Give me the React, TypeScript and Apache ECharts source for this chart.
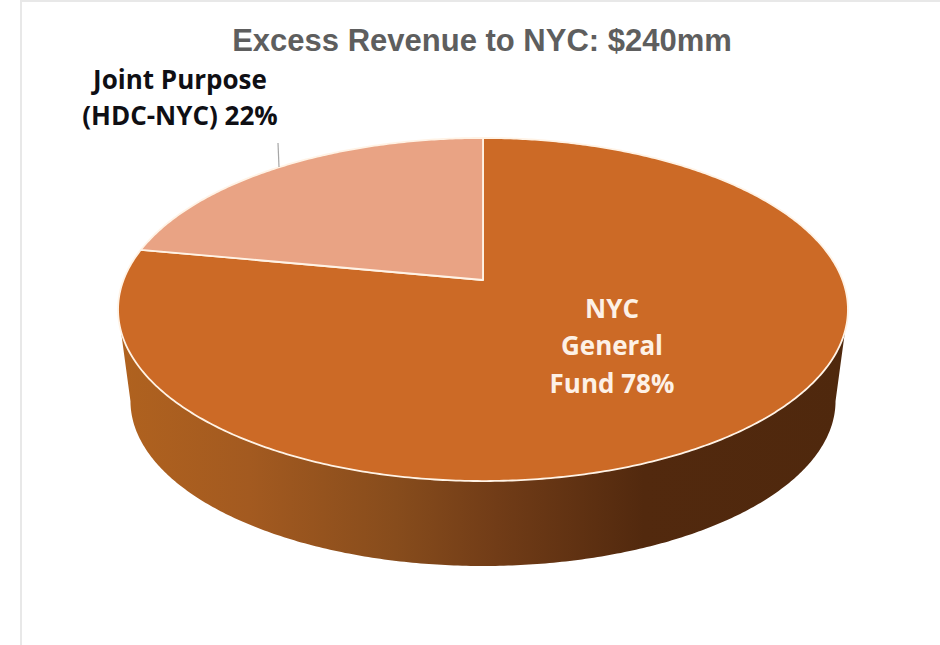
import React, { useEffect, useRef } from "react";
import * as echarts from "echarts";

const titleText = "Excess Revenue to NYC: $240mm";
const categories = ["NYC General Fund", "Joint Purpose (HDC-NYC)"];
const sliceValues = [78, 22];
const sliceLabels = ["NYC\nGeneral\nFund 78%", "Joint Purpose\n(HDC-NYC) 22%"];
const sliceColors = ["#CC6A26", "#E9A384"];

const total = sliceValues.reduce((a, b) => a + b, 0);

// perspective projection of the pie's disc
const CX = 483;
const R = 359.5;
const A = 118.3;
const B = 280;
const C = -0.172;
const project = (theta: number) => {
  const u = Math.sin(theta);
  const v = -Math.cos(theta);
  const d = 1 + C * v;
  return [CX + (R * u) / d, (A * v + B) / d];
};
const lower = (p: number[]) => [CX + (p[0] - CX) * 0.966, 401 + (p[1] - 309.5) * 0.962];

const arcPoints = (a0: number, a1: number) => {
  const n = Math.max(2, Math.ceil(Math.abs(a1 - a0) / 0.01));
  const pts: number[][] = [];
  for (let i = 0; i <= n; i++) pts.push(project(a0 + ((a1 - a0) * i) / n));
  return pts;
};

const sideFill = new echarts.graphic.LinearGradient(0, 0, 1, 0, [
  { offset: 0, color: "#B0621F" },
  { offset: 0.18, color: "#A35A20" },
  { offset: 0.38, color: "#874C1C" },
  { offset: 0.52, color: "#713C17" },
  { offset: 0.72, color: "#52290E" },
  { offset: 1, color: "#4F280D" },
]);

function renderSlice(params: any, api: any) {
  const i = params.dataIndex;
  const value = api.value(0) as number;
  let start = 0;
  for (let k = 0; k < i; k++) start += sliceValues[k];
  const a0 = (start / total) * 2 * Math.PI;
  const a1 = ((start + value) / total) * 2 * Math.PI;
  const rim = arcPoints(a0, a1);
  const children: any[] = [];

  if (i === 0) {
    const front = arcPoints((100 * Math.PI) / 180, (260 * Math.PI) / 180);
    const side = front.concat(front.slice().reverse().map(lower));
    children.push({
      type: "polygon",
      shape: { points: side },
      style: { fill: sideFill, stroke: "none" },
    });
  }
  children.push({
    type: "polygon",
    shape: { points: rim.concat([[CX, B]]) },
    style: { fill: sliceColors[i], stroke: "#FFF3E6", lineWidth: 1.8, lineJoin: "round" },
  });
  if (i === 1) {
    children.push({
      type: "line",
      shape: { x1: 278, y1: 143, x2: 279, y2: 167 },
      style: { stroke: "#A6A6A6", lineWidth: 1.2 },
    });
  }
  children.push({
    type: "text",
    style: {
      text: sliceLabels[i],
      x: i === 0 ? 612 : 180,
      y: i === 0 ? 345 : 97,
      fill: i === 0 ? "#FDF1E6" : "#0F0F14",
      font: '700 26px "Open Sans", "Noto Sans", sans-serif',
      align: "center",
      verticalAlign: "middle",
      lineHeight: i === 0 ? 37.5 : 36,
    },
  });
  return { type: "group", children };
}

export default function App() {
  const ref = useRef<HTMLDivElement>(null);
  useEffect(() => {
    document.body.style.margin = "0";
    const chart = echarts.init(ref.current!, undefined, { renderer: "svg" });
    chart.setOption({
      animation: false,
      backgroundColor: "#FFFFFF",
      title: {
        text: titleText,
        left: 477,
        top: 20,
        textAlign: "center",
        textStyle: {
          fontFamily: '"Liberation Sans", Arial, sans-serif',
          fontSize: 31,
          fontWeight: 700,
          color: "#5E5E5E",
        },
      },
      graphic: [
        { type: "rect", shape: { x: 20, y: 0, width: 2, height: 645 }, style: { fill: "#E8E8E8" } },
        { type: "rect", shape: { x: 20, y: 0, width: 920, height: 2 }, style: { fill: "#E8E8E8" } },
      ],
      series: [
        {
          type: "custom",
          coordinateSystem: "none",
          renderItem: renderSlice,
          data: sliceValues.map((v, i) => ({ name: categories[i], value: [v] })),
        },
      ],
    });
    return () => chart.dispose();
  }, []);
  return <div ref={ref} style={{ width: 940, height: 645 }} />;
}
